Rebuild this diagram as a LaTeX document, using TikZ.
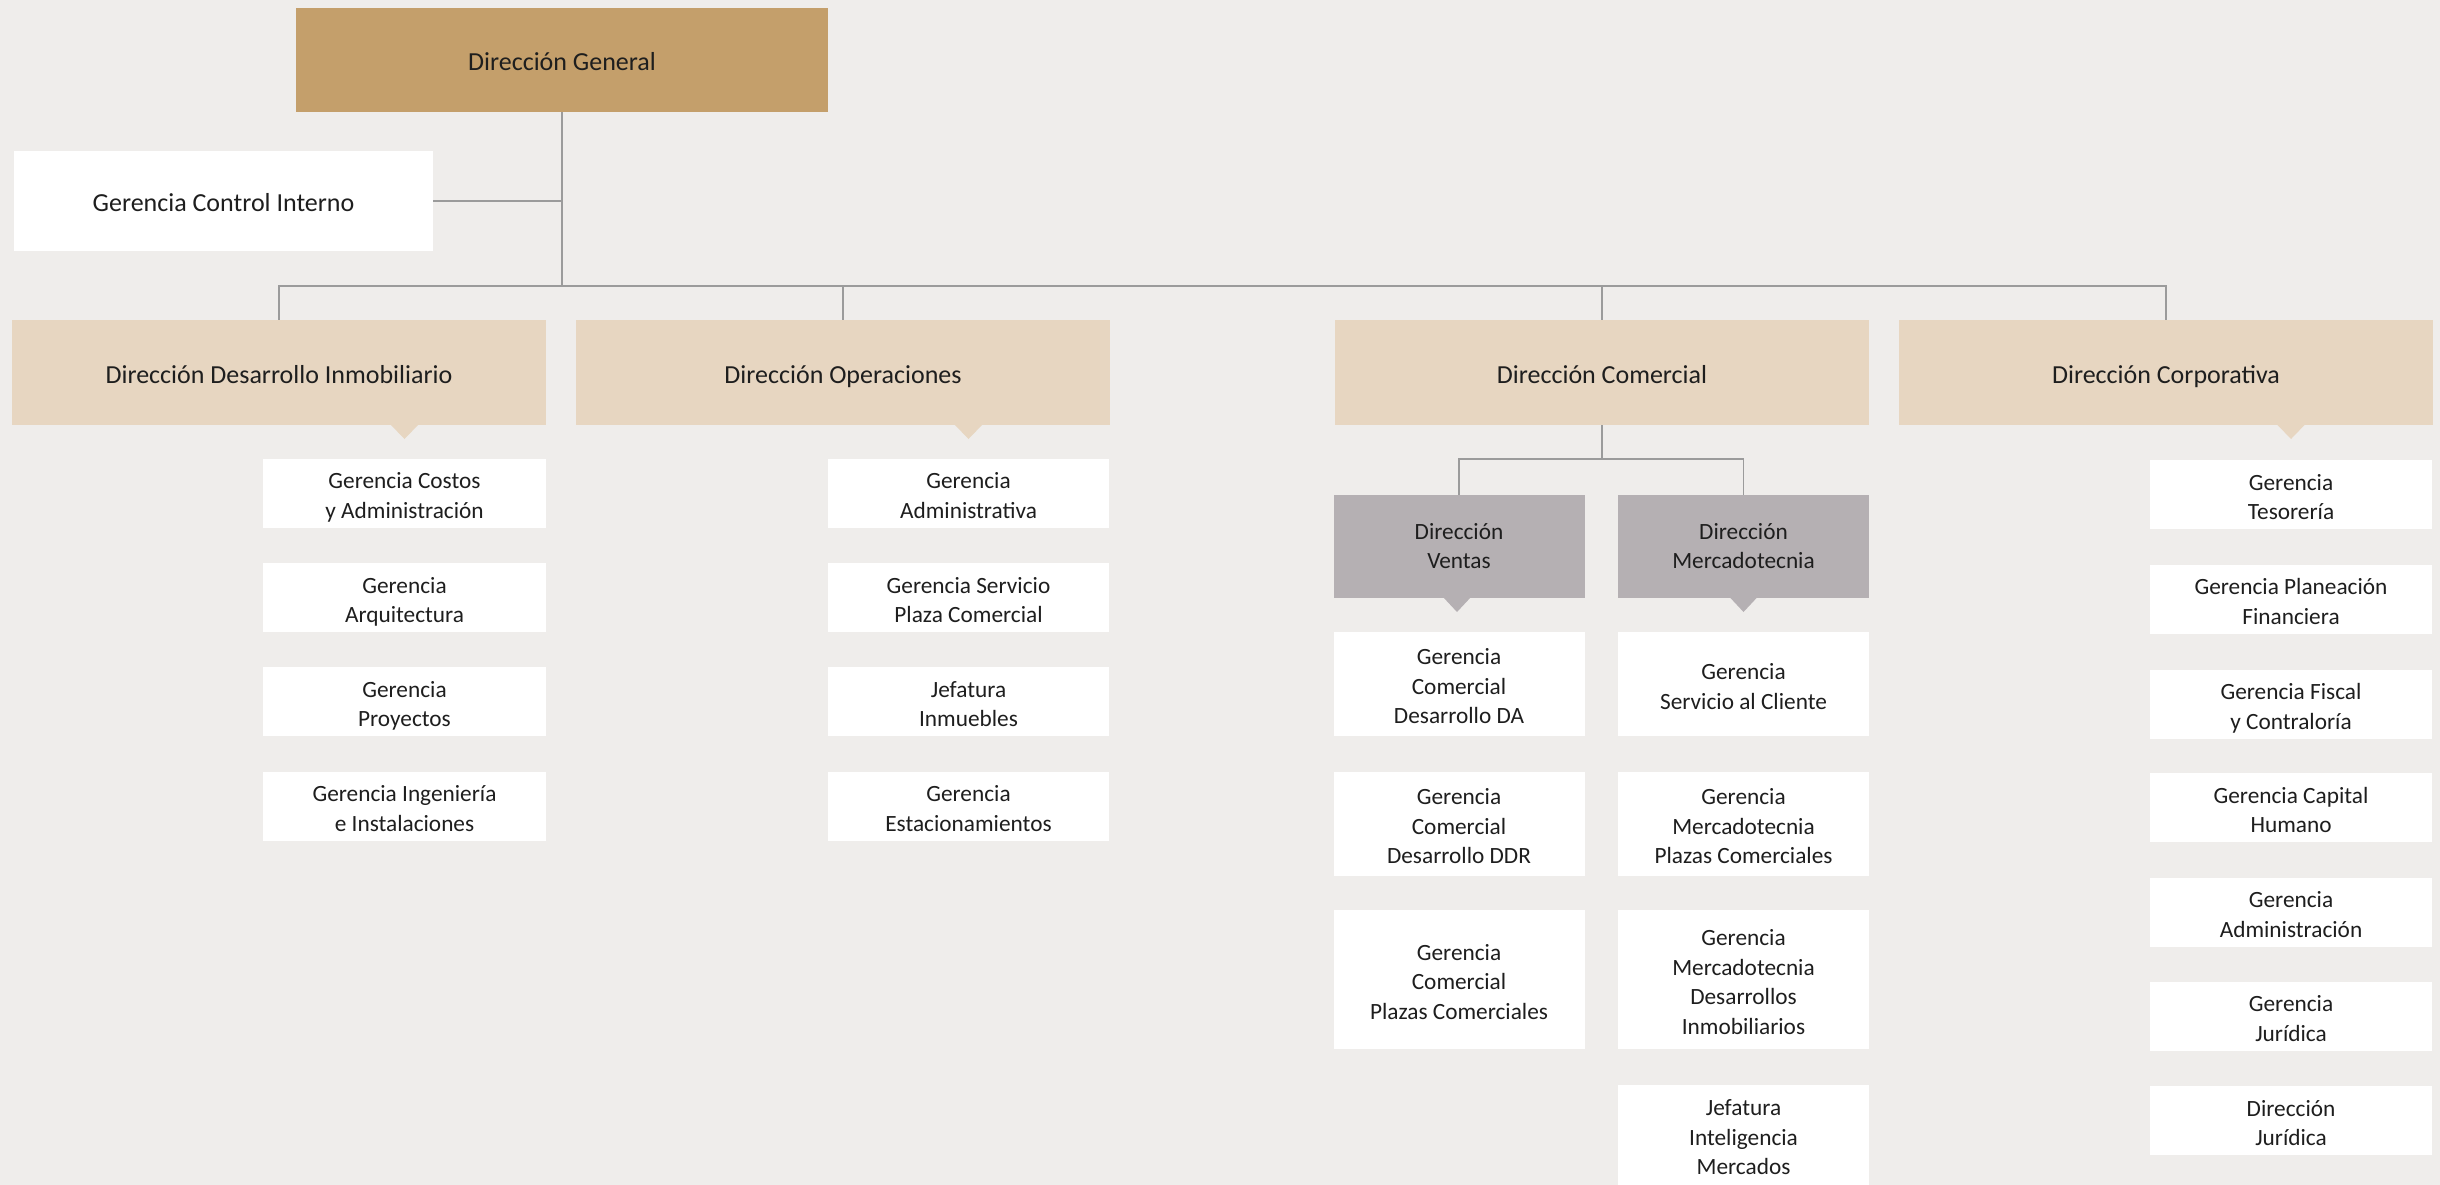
\documentclass[tikz,border=0pt]{standalone}
\usepackage{fontspec}
\setmainfont{Carlito}
\definecolor{bgc}{HTML}{EFEDEB}
\definecolor{gold}{HTML}{C49F6B}
\definecolor{sand}{HTML}{E7D6C1}
\definecolor{greybox}{HTML}{B5B0B3}
\definecolor{wire}{HTML}{9B9B9B}
\definecolor{ink}{HTML}{1E1E1E}
% centred lines of a label, set a little lower than the box's middle
\newlength\labeldrop
\newcommand\lbl[1]{\raisebox{-\labeldrop}[\height][\depth]{\begin{tabular}{@{}c@{}}#1\end{tabular}}}
\begin{document}
\begin{tikzpicture}[x=1pt,y=-1pt,
  box/.style={rectangle,inner sep=0pt,text=ink},
  bigtext/.style={font=\fontsize{26}{31}\selectfont\setlength\labeldrop{4.5pt}},
  smalltext/.style={font=\fontsize{23.3}{29.5}\selectfont\setlength\labeldrop{4.5pt}},
  topbox/.style={box,bigtext,fill=gold,minimum width=532pt,minimum height=104pt},
  ctrlbox/.style={box,bigtext,fill=white,minimum width=419pt,minimum height=100pt},
  dirbox/.style={box,bigtext,fill=sand,minimum width=534pt,minimum height=105pt},
  subdir/.style={box,smalltext,fill=greybox,minimum width=251pt,minimum height=103pt,
    font=\fontsize{23.3}{29.5}\selectfont\setlength\labeldrop{1.5pt}},
  unit/.style={box,smalltext,fill=white,minimum width=282pt,minimum height=69pt},
  cunit/.style={box,smalltext,fill=white,minimum width=251pt},
  wireline/.style={draw=wire,line width=1.5pt}
]
\path[use as bounding box,fill=bgc] (0,0) rectangle (2440,1185);

% top level
\node[topbox] (dg) at (562,60) {\lbl{Dirección General}};
\node[ctrlbox] (gci) at (223.5,201) {\lbl{Gerencia Control Interno}};

% directions
\node[dirbox] (ddi) at (279,372.5) {\lbl{Dirección Desarrollo Inmobiliario}};
\node[dirbox] (dop) at (843,372.5) {\lbl{Dirección Operaciones}};
\node[dirbox] (dcom) at (1602,372.5) {\lbl{Dirección Comercial}};
\node[dirbox] (dcor) at (2166,372.5) {\lbl{Dirección Corporativa}};

% connectors from the top
\coordinate (bus) at (0,286);
\draw[wireline] (dg.south) -- (dg.south |- bus);
\draw[wireline] (gci.east) -- (gci.east -| dg.south);
\draw[wireline] (ddi.north) -- (ddi.north |- bus) -| (dcor.north);
\draw[wireline] (dop.north) -- (dop.north |- bus);
\draw[wireline] (dcom.north) -- (dcom.north |- bus);

% pointers under the directions
\fill[sand] (390,424) -- (419,424) -- (404.5,439) -- cycle;
\fill[sand] (954,424) -- (983,424) -- (968.5,439) -- cycle;
\fill[sand] (2276.5,424) -- (2305.5,424) -- (2291,439) -- cycle;

% Desarrollo Inmobiliario
\node[unit,minimum width=283pt] (di1) at (404.5,493) {\lbl{Gerencia Costos\\y Administración}};
\node[unit,minimum width=283pt] (di2) at (404.5,597.5) {\lbl{Gerencia\\Arquitectura}};
\node[unit,minimum width=283pt] (di3) at (404.5,701.5) {\lbl{Gerencia\\Proyectos}};
\node[unit,minimum width=283pt] (di4) at (404.5,806) {\lbl{Gerencia Ingeniería\\e Instalaciones}};

% Operaciones
\node[unit,minimum width=281pt] (op1) at (968.5,493) {\lbl{Gerencia\\Administrativa}};
\node[unit,minimum width=281pt] (op2) at (968.5,597.5) {\lbl{Gerencia Servicio\\Plaza Comercial}};
\node[unit,minimum width=281pt] (op3) at (968.5,701.5) {\lbl{Jefatura\\Inmuebles}};
\node[unit,minimum width=281pt] (op4) at (968.5,806) {\lbl{Gerencia\\Estacionamientos}};

% Comercial
\node[subdir] (dve) at (1459,546.5) {\lbl{Dirección\\Ventas}};
\node[subdir] (dme) at (1743.5,546.5) {\lbl{Dirección\\Mercadotecnia}};
\draw[wireline] (dcom.south) -- ++(0,34) coordinate (cj);
\draw[wireline] (dve.north) |- (cj) -| (dme.north);
\fill[greybox] (1443,597) -- (1471,597) -- (1457,612) -- cycle;
\fill[greybox] (1729.5,597) -- (1757.5,597) -- (1743.5,612) -- cycle;

\node[cunit,minimum height=104pt] (ve1) at (1459,684) {\lbl{Gerencia\\Comercial\\Desarrollo DA}};
\node[cunit,minimum height=104pt] (ve2) at (1459,824) {\lbl{Gerencia\\Comercial\\Desarrollo DDR}};
\node[cunit,minimum height=139pt] (ve3) at (1459,979.5) {\lbl{Gerencia\\Comercial\\Plazas Comerciales}};

\node[cunit,minimum height=104pt] (me1) at (1743.5,684) {\lbl{Gerencia\\Servicio al Cliente}};
\node[cunit,minimum height=104pt] (me2) at (1743.5,824) {\lbl{Gerencia\\Mercadotecnia\\Plazas Comerciales}};
\node[cunit,minimum height=139pt] (me3) at (1743.5,979.5) {\lbl{Gerencia\\Mercadotecnia\\Desarrollos\\Inmobiliarios}};
\node[cunit,minimum height=100pt] (me4) at (1743.5,1135) {\lbl{Jefatura\\Inteligencia\\Mercados}};

% Corporativa
\node[unit] (co1) at (2291,494.5) {\lbl{Gerencia\\Tesorería}};
\node[unit] (co2) at (2291,599) {\lbl{Gerencia Planeación\\Financiera}};
\node[unit] (co3) at (2291,704) {\lbl{Gerencia Fiscal\\y Contraloría}};
\node[unit] (co4) at (2291,807.5) {\lbl{Gerencia Capital\\Humano}};
\node[unit] (co5) at (2291,912) {\lbl{Gerencia\\Administración}};
\node[unit] (co6) at (2291,1016) {\lbl{Gerencia\\Jurídica}};
\node[unit] (co7) at (2291,1120.5) {\lbl{Dirección\\Jurídica}};
\end{tikzpicture}
\end{document}
